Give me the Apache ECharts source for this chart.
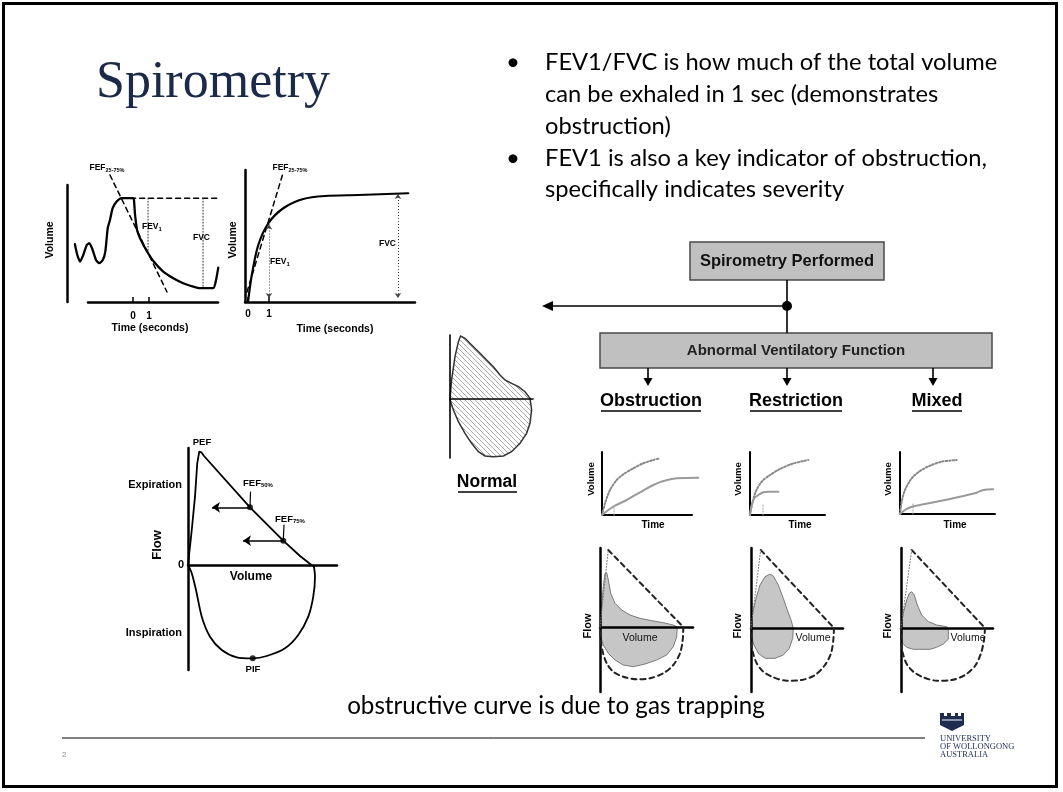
<!DOCTYPE html>
<html><head><meta charset="utf-8">
<script src="https://cdn.jsdelivr.net/npm/echarts@6/dist/echarts.min.js"></script>
<style>html,body{margin:0;padding:0;background:#fff}#c{width:1063px;height:792px}</style>
</head><body><div id="c"></div>
<script>
// ================= DATA (arbitrary units) =================
// Chart A: spirometer trace, [time s, volume]
const traceA = [[-3.63,2.79],[-3.48,2.25],[-3.31,1.92],[-3.11,2.25],[-2.89,2.75],[-2.73,2.84],[-2.52,2.5],[-2.31,2.0],[-2.11,1.84],[-1.89,2.0],[-1.73,2.42],[-1.58,3.59],[-1.44,4.0],[-1.27,4.59],[-1.02,4.92],[-0.71,5.09],[0,5.09],[0.06,5.0],[0.13,4.25],[0.27,3.45],[0.54,2.92],[0.86,2.45],[1.27,1.95],[1.89,1.42],[2.52,1.09],[3.14,0.84],[3.77,0.67],[4.19,0.59],[5.02,0.59],[5.17,0.92],[5.33,1.62]];
const plateauA = [[-0.71,5.09],[5.44,5.09]];
const tangentA = [[-1.44,6.25],[2.125,0.4]];
const fev1A = [[0.94,5.09],[0.94,2.4]];
const fvcA = [[4.375,5.09],[4.375,0.6]];
const timeTicks = [0,1];
// Chart B: volume-time curve
const curveB = [[0,0],[0.18,1.08],[0.49,2.28],[0.97,3.15],[1.68,3.75],[2.63,4.12],[3.67,4.24],[5.25,4.28],[7.63,4.35]];
const tangentB = [[-0.05,0.4],[1.67,5.16]];
const fev1B = [[1.0,3.1],[1.0,0.16]];
const fvcB = [[7.14,4.32],[7.14,0.16]];
// Chart C: flow-volume loop [volume, flow]
const expC = [[0,0],[0.15,3.5],[0.28,6.83],[0.37,10.17],[0.45,11.33],[0.55,11.23],[0.64,10.9],[2.48,5.77],[3.81,2.43],[4.48,0.9],[4.85,0.17],[5.04,-0.17]];
const inspC = [[5.04,-0.17],[5.08,-1.17],[5.01,-3.17],[4.81,-5.17],[4.41,-7.0],[3.88,-8.33],[3.15,-9.1],[2.59,-9.33],[1.95,-9.23],[1.35,-8.5],[0.88,-7.17],[0.55,-5.17],[0.32,-2.5],[0.15,-0.83],[0.04,-0.17],[0,0]];
const fefPoints = [[2.48,5.77],[3.81,2.43]];
const fefArrowEnds = [[0.96,5.77],[2.2,2.43]];
const fefLeaders = [[[2.5,7.3],[2.48,5.77]],[[3.84,4.0],[3.81,2.43]]];
const pifPoint = [2.59,-9.33];
const flowTicks = [0];
// Normal loop
const normalLoop = [[0,0],[0.08,1.9],[0.25,4.23],[0.42,5.73],[0.53,6.3],[0.75,6.07],[1.08,5.4],[1.5,4.57],[1.83,3.9],[2.17,3.23],[2.5,2.4],[2.75,1.9],[3.08,1.57],[3.42,1.23],[3.75,0.73],[4.0,0.07],[4.08,-1.1],[4.0,-2.43],[3.83,-3.43],[3.5,-4.43],[3.08,-5.27],[2.67,-5.7],[2.17,-5.77],[1.75,-5.7],[1.42,-5.27],[1.08,-4.43],[0.75,-3.43],[0.42,-2.27],[0.17,-1.1],[0.03,-0.27]];
// Volume-time small charts
const obsVTnorm = [[0,0],[0.3,1.17],[0.8,2.5],[1.47,3.5],[2.13,4.07],[3.13,4.67],[4.13,5.17],[5.13,5.5],[5.8,5.67]];
const obsVT = [[0,0],[0.63,0.5],[1.3,0.93],[2.47,1.5],[3.8,2.27],[5.13,3.0],[6.13,3.4],[7.47,3.67],[9.63,3.73]];
const obsVTmark = [[1.2,0],[1.2,0.8]];
const resVTnorm = [[0,0],[0.23,1.17],[0.57,2.33],[1.17,3.33],[2.0,4.0],[3.0,4.6],[4.17,5.1],[5.5,5.43],[5.83,5.5]];
const resVT = [[0,0],[0.17,1.0],[0.43,1.67],[0.83,2.0],[1.33,2.27],[1.83,2.33],[2.83,2.33]];
const resVTmark = [[1.3,0],[1.3,1.2]];
const mixVTnorm = [[0,0],[0.17,1.23],[0.5,2.4],[1.17,3.57],[2.0,4.3],[3.0,4.83],[4.17,5.23],[5.67,5.4]];
const mixVT = [[0,0],[0.5,0.4],[1.17,0.73],[2.33,0.97],[3.67,1.23],[5.0,1.5],[6.33,1.8],[7.67,2.13],[8.33,2.4],[9.33,2.47]];
const mixVTmark = [[1.3,0],[1.3,1.0]];
// Flow-volume small charts
const obsFV = [[0,0],[0.17,2.03],[0.33,4.03],[0.5,5.37],[0.67,5.43],[0.83,4.7],[1.07,3.37],[1.5,2.37],[2.17,1.7],[3.0,1.2],[4.0,0.87],[5.17,0.63],[6.33,0.43],[7.33,0.2],[7.73,0],[7.67,-0.97],[7.33,-1.97],[6.67,-2.8],[5.67,-3.3],[4.5,-3.7],[3.33,-3.97],[2.33,-3.8],[1.5,-3.3],[0.83,-2.63],[0.33,-1.8],[0.07,-0.97]];
const obsRefPeak = [[0.83,7.7],[8.33,0]];
const obsRefArc = [[8.33,0],[8.27,-1.3],[8.0,-2.63],[7.33,-3.8],[6.33,-4.63],[5.0,-5.13],[3.67,-5.23],[2.33,-4.97],[1.33,-4.47],[0.67,-3.63],[0.27,-2.47],[0.07,-1.3],[0,0]];
const resFV = [[0,0],[0.17,1.47],[0.5,2.97],[0.9,4.3],[1.4,5.13],[1.9,5.4],[2.23,5.2],[2.73,4.3],[3.23,2.97],[3.63,1.8],[4.0,0.8],[4.23,0],[4.17,-1.03],[3.83,-2.03],[3.23,-2.7],[2.4,-3.03],[1.4,-3.03],[0.73,-2.53],[0.3,-1.7],[0.03,-0.87]];
const resRefPeak = [[0.97,7.8],[8.3,0]];
const resRefArc = [[8.3,0],[8.23,-1.2],[8.0,-2.53],[7.4,-3.7],[6.4,-4.7],[5.07,-5.2],[3.57,-5.27],[2.23,-4.93],[1.23,-4.37],[0.57,-3.53],[0.17,-2.37],[0,-1.2],[0,0]];
const mixFV = [[0,0],[0.23,1.47],[0.57,2.8],[0.83,3.47],[1.07,3.63],[1.33,3.3],[1.63,2.3],[2.07,1.3],[2.73,0.63],[3.57,0.3],[4.57,0.13],[4.73,0],[4.73,-1.13],[4.23,-1.6],[3.57,-1.93],[2.9,-2.13],[1.23,-2.13],[0.57,-1.93],[0.17,-1.53],[0,-0.87]];
const mixRefPeak = [[1.07,7.8],[8.4,0]];
const mixRefArc = [[8.4,0],[8.3,-1.2],[8.0,-2.53],[7.4,-3.8],[6.4,-4.7],[5.07,-5.2],[3.57,-5.27],[2.23,-4.93],[1.23,-4.37],[0.57,-3.6],[0.17,-2.47],[0,-1.2],[0,0]];
// Text
const bulletLines = ['FEV1/FVC is how much of the total volume','can be exhaled in 1 sec (demonstrates','obstruction)','FEV1 is also a key indicator of obstruction,','specifically indicates severity'];
const categories = ['Obstruction','Restriction','Mixed'];

// ================= BUILD =================
const SANS = "'Liberation Sans', Arial, sans-serif";
const SERIF = "'Liberation Serif', 'Times New Roman', serif";
const BODY = "Lato, 'Liberation Sans', sans-serif";
const chart = echarts.init(document.getElementById('c'), null, {renderer:'canvas', width:1063, height:792});
const grids=[], xAxes=[], yAxes=[], series=[];

function addGrid(rect, xr, yr, o={}) {
  const gi = grids.length;
  grids.push({left:rect[0], top:rect[1], width:rect[2], height:rect[3], containLabel:false, show:false});
  const lw = o.w || 2.5;
  xAxes.push({gridIndex:gi, type:'value', min:xr[0], max:xr[1], z:3,
    axisLine:{show:o.xLine!==false, onZero:!!o.xZero, lineStyle:{color:'#000', width:lw}},
    axisTick: o.xTicks ? {show:true, inside:true, length:5, customValues:o.xTicks, lineStyle:{color:'#000', width:1.5}} : {show:false},
    axisLabel: o.xTicks ? {show:true, customValues:o.xTicks, color:'#000', fontSize:10, fontWeight:'bold', fontFamily:SANS, margin:o.xMargin||8} : {show:false},
    splitLine:{show:false}});
  yAxes.push({gridIndex:gi, type:'value', min:yr[0], max:yr[1], offset:o.yOffset||0, z:3,
    axisLine:{show:o.yLine!==false, onZero:false, lineStyle:{color:'#000', width:lw}},
    axisTick:{show:false},
    axisLabel: o.yTicks ? {show:true, customValues:o.yTicks, color:'#000', fontSize:11, fontWeight:'bold', fontFamily:SANS, margin:4} : {show:false},
    splitLine:{show:false}});
  return gi;
}
function line(gi, data, o={}) {
  const s = {type:'line', xAxisIndex:gi, yAxisIndex:gi, data, symbol:'none', showSymbol:false, clip:false, silent:true,
    smooth:o.smooth||false, z:o.z||4,
    lineStyle:{color:o.color||'#000', width:o.w||2, type:o.type||'solid', cap:'round', join:'round'}};
  if (o.markLine) s.markLine = o.markLine;
  series.push(s);
}
function poly(gi, pts, o) {
  series.push({type:'custom', xAxisIndex:gi, yAxisIndex:gi, coordinateSystem:'cartesian2d', data:[pts[0]], silent:true, z:o.z||1, clip:false,
    renderItem:(params, api) => ({type:'polygon', shape:{points:pts.map(p=>api.coord(p))}, style:{fill:o.fill, stroke:o.stroke, lineWidth:o.w||1}})});
}
const DASH = [5,4];

// Chart A : plot grid (y axis at left) + separate x-axis grid (shorter axis line)
const gA = addGrid([67,185,151,117], [-4.125,5.3125], [-0.1,5.75], {xLine:false});
addGrid([88,185,130,117], [-2.8125,5.3125], [-0.1,5.75], {yLine:false, xTicks:timeTicks, xMargin:9});
line(gA, traceA, {w:2.3, smooth:0.2});
line(gA, plateauA, {w:1.5, type:DASH});
line(gA, tangentA, {w:1.5, type:DASH});
line(gA, fev1A, {w:1, type:[1,2], color:'#333'});
line(gA, fvcA, {w:1, type:[1,2], color:'#333'});
// Chart B
const gB = addGrid([245,170,170,132], [-0.143,7.952], [0,5.28], {xTicks:timeTicks, xMargin:7});
line(gB, curveB, {w:2.2, smooth:0.3, markLine:{silent:true, symbol:['arrow','arrow'], symbolSize:5, label:{show:false},
  lineStyle:{color:'#444', width:1, type:[1,2]}, data:[[{coord:fev1B[0]},{coord:fev1B[1]}],[{coord:fvcB[0]},{coord:fvcB[1]}]]}});
line(gB, tangentB, {w:1.5, type:DASH});
// Chart C
const gC = addGrid([188,448,149,222], [0,5.96], [-10.5,11.7], {xZero:true, yTicks:flowTicks});
line(gC, expC, {w:1.8, markLine:{silent:true, symbol:['none','arrow'], symbolSize:8, label:{show:false},
  lineStyle:{color:'#000', width:1.5, type:'solid'}, data:fefPoints.map((p,i)=>[{coord:p},{coord:fefArrowEnds[i]}])}});
line(gC, inspC, {w:1.8, smooth:0.25});
fefLeaders.forEach(l => line(gC, l, {w:1.2}));
series.push({type:'scatter', xAxisIndex:gC, yAxisIndex:gC, data:fefPoints.concat([pifPoint]), symbolSize:6, itemStyle:{color:'#000'}, silent:true, z:6});
// Normal loop
const hc = document.createElement('canvas'); hc.width = 5; hc.height = 5;
(function(){ const c = hc.getContext('2d'); c.fillStyle='#fff'; c.fillRect(0,0,5,5); c.strokeStyle='#a8a8a8'; c.lineWidth=1;
  c.beginPath(); c.moveTo(0,0); c.lineTo(5,5); c.moveTo(-2,3); c.lineTo(2,7); c.moveTo(3,-2); c.lineTo(7,2); c.stroke(); })();
const gN = addGrid([450,335,83,123], [0,4.15], [-5.9,6.4], {xZero:true, w:1.6});
poly(gN, normalLoop, {fill:{image:hc, repeat:'repeat'}, stroke:'#333', w:1.5});
// VT small charts (obstruction plot range wider than its drawn time axis)
const gV1 = addGrid([602,452,97,63], [0,9.7], [0,6.3], {w:2, xLine:false});
addGrid([602,452,90,63], [0,9], [0,6.3], {w:2, yLine:false});
line(gV1, obsVTnorm, {w:2, type:[1.5,2], color:'#888', smooth:0.3});
line(gV1, obsVT, {w:2, color:'#9a9a9a', smooth:0.3});
line(gV1, obsVTmark, {w:1, type:[1,2], color:'#999'});
const gV2 = addGrid([750,452,75,63], [0,7.5], [0,6.3], {w:2});
line(gV2, resVTnorm, {w:2, type:[1.5,2], color:'#888', smooth:0.3});
line(gV2, resVT, {w:2, color:'#9a9a9a', smooth:0.3});
line(gV2, resVTmark, {w:1, type:[1,2], color:'#999'});
const gV3 = addGrid([900,452,95,62], [0,9.5], [0,6.2], {w:2});
line(gV3, mixVTnorm, {w:2, type:[1.5,2], color:'#888', smooth:0.3});
line(gV3, mixVT, {w:2, color:'#9a9a9a', smooth:0.3});
line(gV3, mixVTmark, {w:1, type:[1,2], color:'#999'});
// FV small charts
[[[600,548,93,144],[0,9.3],[-6.5,7.9],obsFV,obsRefPeak,obsRefArc],
 [[751,548,92,144],[0,9.2],[-6.4,8.0],resFV,resRefPeak,resRefArc],
 [[901,548,92,144],[0,9.2],[-6.4,8.0],mixFV,mixRefPeak,mixRefArc]].forEach(c => {
  const g = addGrid(c[0], c[1], c[2], {xZero:true, w:2.5});
  poly(g, c[3], {fill:'#c6c6c6', stroke:'#7a7a7a', w:1});
  line(g, c[4], {w:2, type:DASH, color:'#222'});
  line(g, c[5], {w:2, type:DASH, color:'#222', smooth:0.3});
  line(g, [[0,0], c[4][0]], {w:1, type:[1,2], color:'#777'});
});

// ================= GRAPHICS (layout text & diagram) =================
const G = [];
function T(x, y, text, o={}) {
  const st = {text, fontSize:o.size||12, fontFamily:o.font||SANS, fontWeight:o.bold?'bold':'normal', fill:o.color||'#000',
    align:o.align||'center', verticalAlign:'middle', textAlign:o.align||'center', textVerticalAlign:'middle'};
  if (o.rich) st.rich = o.rich;
  G.push({type:'text', x, y, rotation:o.rot||0, z:100, silent:true, style:st});
}
function L(x1,y1,x2,y2,w,c) { G.push({type:'line', z:90, silent:true, shape:{x1,y1,x2,y2}, style:{stroke:c||'#000', lineWidth:w||1}}); }
function P(points, c) { G.push({type:'polygon', z:91, silent:true, shape:{points}, style:{fill:c||'#000'}}); }
const R90 = Math.PI/2;
const sub = (s1, s2) => ({rich:{a:{fontSize:s1, fontWeight:'bold', fontFamily:SANS}, b:{fontSize:s2, fontWeight:'bold', fontFamily:SANS, padding:[4,0,0,0]}}});

// frame
G.push({type:'rect', z:100, silent:true, shape:{x:3.5,y:3.5,width:1053,height:783}, style:{fill:'none', stroke:'#000', lineWidth:3}});
// title
T(96, 83, 'Spirometry', {size:52, font:SERIF, color:'#1c2a4a', align:'left'});
// bullets
const bulletY = [62.5,94.5,126.5,158,189.5];
bulletLines.forEach((t,i) => T(545, bulletY[i], t, {size:23.7, font:BODY, align:'left'}));
T(513, 62.5, '•', {size:24, font:BODY}); T(513, 158, '•', {size:24, font:BODY});
T(556, 706, 'obstructive curve is due to gas trapping', {size:24.2, font:BODY});
// chart A labels
T(107,168,'{a|FEF}{b|25-75%}', Object.assign({bold:true}, sub(8.5,5.5)));
T(142,227,'{a|FEV}{b|1}', Object.assign({bold:true, align:'left'}, sub(8.5,6)));
T(193,238,'FVC', {size:8.5, bold:true, align:'left'});
T(50,240,'Volume', {size:10.5, bold:true, rot:R90});
T(150,328,'Time (seconds)', {size:10.5, bold:true});
// chart B labels
T(290,168,'{a|FEF}{b|25-75%}', Object.assign({bold:true}, sub(8.5,5.5)));
T(270,262,'{a|FEV}{b|1}', Object.assign({bold:true, align:'left'}, sub(8.5,6)));
T(379,244,'FVC', {size:8.5, bold:true, align:'left'});
T(233,240,'Volume', {size:10.5, bold:true, rot:R90});
T(335,329,'Time (seconds)', {size:10.5, bold:true});
// chart C labels
T(202,442,'PEF', {size:9.5, bold:true});
T(182,485,'Expiration', {size:11, bold:true, align:'right'});
T(243,483,'{a|FEF}{b|50%}', Object.assign({bold:true, align:'left'}, sub(9.5,6)));
T(275,519,'{a|FEF}{b|75%}', Object.assign({bold:true, align:'left'}, sub(9.5,6)));
T(157,545,'Flow', {size:13, bold:true, rot:R90});
T(251,577,'Volume', {size:12, bold:true});
T(182,633,'Inspiration', {size:11, bold:true, align:'right'});
T(253,669,'PIF', {size:9.5, bold:true});
// Normal
T(487,482,'Normal', {size:17.5, bold:true}); L(458,492,517,492,1.6);
// flowchart
G.push({type:'rect', z:80, silent:true, shape:{x:690,y:242,width:194,height:38}, style:{fill:'#c0c0c0', stroke:'#4a4a4a', lineWidth:1.5}});
T(787,261,'Spirometry Performed', {size:16.5, bold:true, color:'#111'});
L(787,280,787,333,1.6); L(787,306,551,306,1.6);
G.push({type:'circle', z:92, silent:true, shape:{cx:787, cy:306, r:5}, style:{fill:'#000'}});
P([[542,306],[553,301],[553,311]]);
G.push({type:'rect', z:80, silent:true, shape:{x:600,y:333,width:392,height:35}, style:{fill:'#c0c0c0', stroke:'#4a4a4a', lineWidth:1.5}});
T(796,351,'Abnormal Ventilatory Function', {size:15, bold:true, color:'#222'});
[648,787,933].forEach(x => { L(x,368,x,379,1.6); P([[x-4.5,378],[x+4.5,378],[x,386]]); });
const catX = [651,796,937], catHalf = [50,46,25];
categories.forEach((c,i) => { T(catX[i],401,c,{size:18, bold:true}); L(catX[i]-catHalf[i],411,catX[i]+catHalf[i],411,1.6); });
// small chart labels
[[591,653],[738,800],[888,955]].forEach(p => { T(p[0],479,'Volume',{size:9.5, bold:true, rot:R90}); T(p[1],525,'Time',{size:10, bold:true}); });
[[588,640],[738,813],[888,968]].forEach(p => { T(p[0],626,'Flow',{size:11, bold:true, rot:R90}); T(p[1],638,'Volume',{size:10.5, color:'#111'}); });
// footer
L(62,738,925,738,1);
T(62,755,'2',{size:8, color:'#888', align:'left'});
// logo
P([[940,713],[944,713],[944,716],[947,716],[947,713],[951,713],[951,716],[955,716],[955,713],[958,713],[958,716],[961,716],[961,713],[964,713],[964,725],[952,731],[940,725]], '#1d2c4f');
G.push({type:'rect', z:95, silent:true, shape:{x:942,y:719,width:20,height:2}, style:{fill:'#8a94aa'}});
T(940,739,'UNIVERSITY',{size:8.5, font:SERIF, color:'#1d2c4f', align:'left'});
T(940,747,'OF WOLLONGONG',{size:8.5, font:SERIF, color:'#1d2c4f', align:'left'});
T(940,755,'AUSTRALIA',{size:8.5, font:SERIF, color:'#1d2c4f', align:'left'});

chart.setOption({animation:false, backgroundColor:'#fff', grid:grids, xAxis:xAxes, yAxis:yAxes, series, graphic:{elements:G}});
</script></body></html>
